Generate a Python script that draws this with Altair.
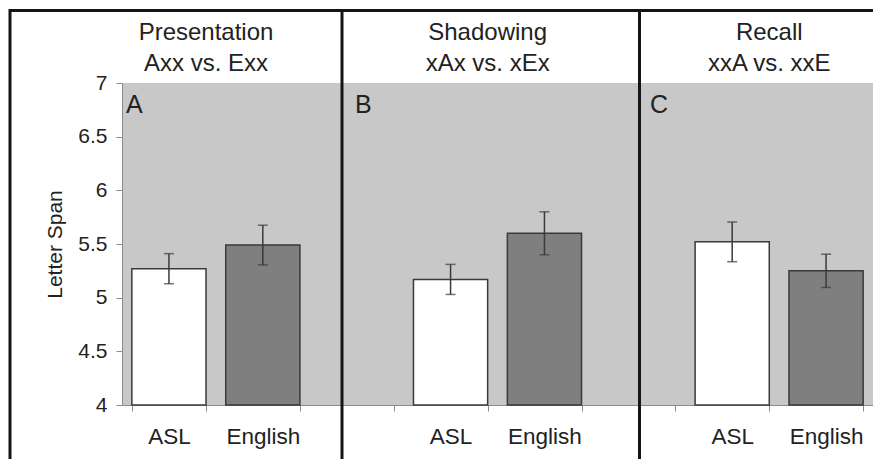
import json
import altair as alt
import pandas as pd

# ---- data ----
categories = ["A_ASL", "A_English", "gap_B", "B_ASL", "B_English", "gap_C", "C_ASL", "C_English"]
tick_labels = ["ASL", "English", "", "ASL", "English", "", "ASL", "English"]
bar_keys = ["A_ASL", "A_English", "B_ASL", "B_English", "C_ASL", "C_English"]
bar_groups = ["ASL", "English", "ASL", "English", "ASL", "English"]
means = [5.27, 5.49, 5.17, 5.60, 5.52, 5.25]
errors = [0.14, 0.185, 0.14, 0.20, 0.185, 0.155]
panel_title_keys = ["A_ASL", "B_ASL", "C_ASL"]
panel_titles = ["Presentation\nAxx vs. Exx", "Shadowing\nxAx vs. xEx", "Recall\nxxA vs. xxE"]
panel_letters = ["A", "B", "C"]
y_ticks = [4, 4.5, 5, 5.5, 6, 6.5, 7]

bars_df = pd.DataFrame({
    "key": bar_keys,
    "group": bar_groups,
    "mean": means,
    "lo": [m - e for m, e in zip(means, errors)],
    "hi": [m + e for m, e in zip(means, errors)],
})
titles_df = pd.DataFrame({"key": panel_title_keys, "title": panel_titles})
dummy = pd.DataFrame({"d": [0]})

FONT = "Liberation Sans, Arial, sans-serif"
TXT = "#222222"
DARK = "#3a3a3a"

label_map = json.dumps(dict(zip(categories, tick_labels)))

x_scale = alt.Scale(domain=categories, paddingInner=0.21, paddingOuter=0.105)
x_axis = alt.Axis(
    title=None, labelExpr=f"{label_map}[datum.value]", labelAngle=0,
    tickBand="extent", tickSize=6, labelPadding=14, labelFontSize=22.5,
    labelFont=FONT, labelColor=TXT, domainColor="#8a8a8a", tickColor="#8a8a8a",
)
y_scale = alt.Scale(domain=[4, 7], nice=False, zero=False)
y_axis = alt.Axis(
    title="Letter Span", values=y_ticks, format="~g", grid=False,
    tickSize=6, labelPadding=9, labelFontSize=21, labelFont=FONT, labelColor=TXT,
    titleFontSize=21, titleFont=FONT, titleFontWeight="normal", titleColor=TXT,
    titleX=-61, titleY=161, titleBaseline="alphabetic", titleAngle=270,
    domainColor="#8a8a8a", tickColor="#8a8a8a",
)

X = alt.X("key:N", scale=x_scale, axis=x_axis)

bars = alt.Chart(bars_df).mark_bar(stroke=DARK, strokeWidth=1.5).encode(
    x=X,
    y=alt.Y("mean:Q", scale=y_scale, axis=y_axis),
    y2=alt.datum(4),
    color=alt.Color("group:N", scale=alt.Scale(domain=["ASL", "English"],
                                               range=["#ffffff", "#7f7f7f"]), legend=None),
)

err = alt.Chart(bars_df).mark_rule(color=DARK, strokeWidth=1.5).encode(
    x=X, y=alt.Y("lo:Q", scale=y_scale, axis=y_axis), y2="hi:Q",
)
cap_lo = alt.Chart(bars_df).mark_tick(color=DARK, size=10, thickness=1.5).encode(
    x=X, y=alt.Y("lo:Q", scale=y_scale, axis=y_axis),
)
cap_hi = alt.Chart(bars_df).mark_tick(color=DARK, size=10, thickness=1.5).encode(
    x=X, y=alt.Y("hi:Q", scale=y_scale, axis=y_axis),
)

titles = alt.Chart(titles_df).mark_text(
    lineBreak="\n", lineHeight=31, fontSize=24, font=FONT, color=TXT,
    align="center", baseline="alphabetic",
).encode(
    x=alt.X("key:N", scale=x_scale, axis=x_axis, bandPosition=1),
    y=alt.value(-43),
    text="title:N",
)

# panel letters (layout positions, in pixels)
letter_x = [4, 233, 528]
letters = [
    alt.Chart(dummy).mark_text(text=t, fontSize=25, font=FONT, color=TXT,
                               align="left", baseline="alphabetic")
    .encode(x=alt.value(px), y=alt.value(30))
    for t, px in zip(panel_letters, letter_x)
]

# figure frame and panel dividers (layout, in pixels)
FRAME = "#151515"
frame = [
    alt.Chart(dummy).mark_rule(color=FRAME, strokeWidth=3)
    .encode(x=alt.value(-112), x2=alt.value(760), y=alt.value(-72.5)),
    alt.Chart(dummy).mark_rule(color=FRAME, strokeWidth=3)
    .encode(x=alt.value(-112), y=alt.value(-74), y2=alt.value(380)),
    alt.Chart(dummy).mark_rule(color=FRAME, strokeWidth=3)
    .encode(x=alt.value(220), y=alt.value(-74), y2=alt.value(380)),
    alt.Chart(dummy).mark_rule(color=FRAME, strokeWidth=3)
    .encode(x=alt.value(517.5), y=alt.value(-74), y2=alt.value(380)),
]

chart = alt.layer(bars, err, cap_lo, cap_hi, titles, *letters, *frame).properties(
    width=751, height=322,
    autosize=alt.AutoSizeParams(type="none"),
    padding={"left": 114, "top": 75, "right": 0, "bottom": 54},
    background="white",
).configure_view(fill="#c8c8c8", stroke=None)

chart.save("out.html", embed_options={"renderer": "svg", "actions": False})
